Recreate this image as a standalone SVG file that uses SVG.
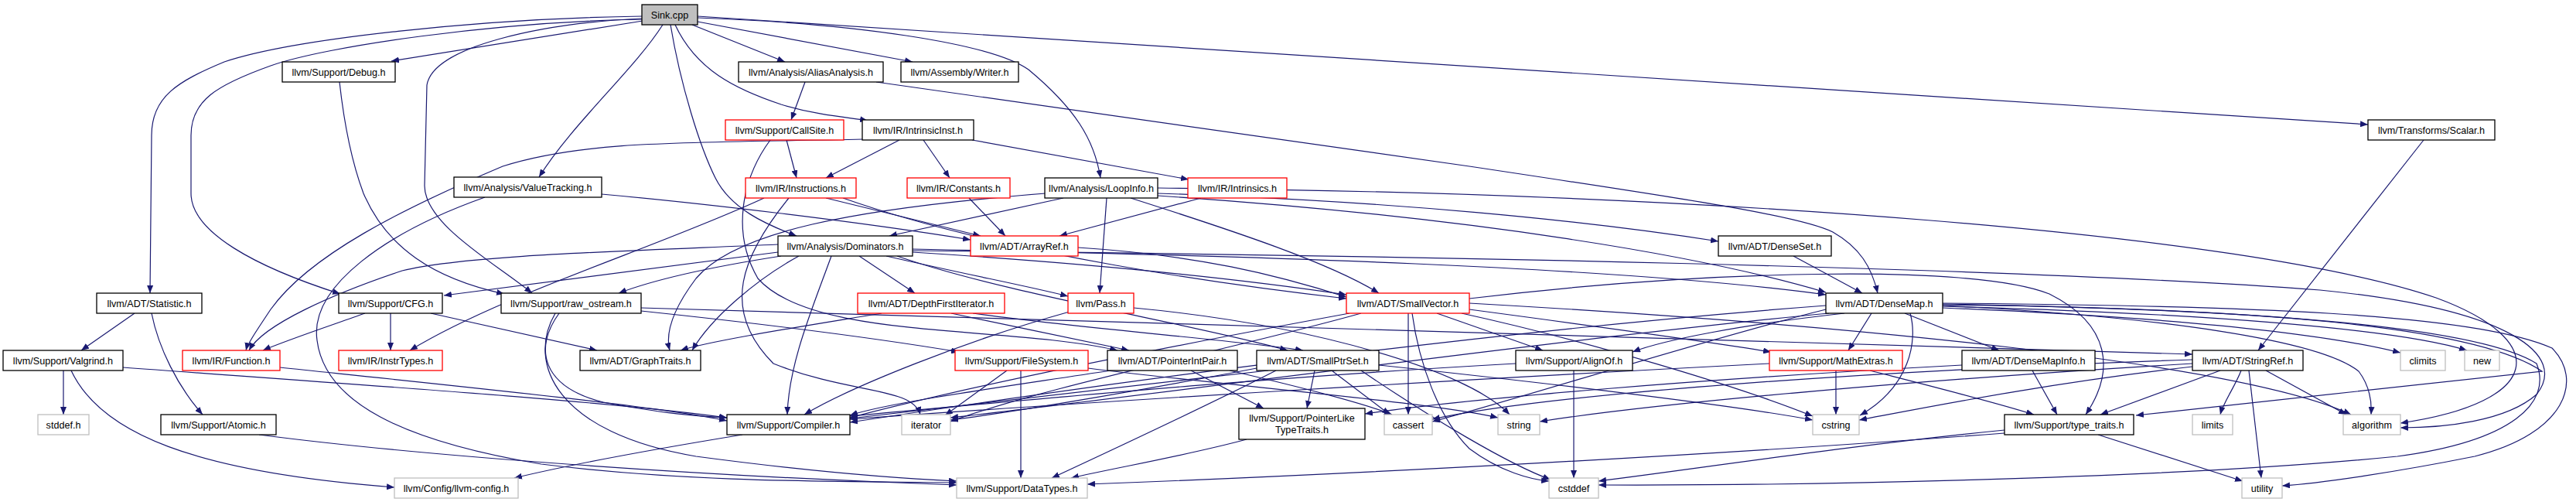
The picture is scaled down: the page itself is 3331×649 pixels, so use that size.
<svg xmlns="http://www.w3.org/2000/svg" width="3331" height="649" viewBox="0 0 3331 649">
<defs>
<marker id="a" markerWidth="11" markerHeight="8" refX="10" refY="4" orient="auto" markerUnits="userSpaceOnUse"><path d="M0,0 L10,4 L0,8 z" fill="#191970"/></marker>
<style>
rect{fill:#fff;stroke:#000;stroke-width:1.3}
rect.r{stroke:#ff0000}
rect.g{stroke:#bfbfbf}
rect.s{fill:#bfbfbf}
text{font-family:"Liberation Sans",Arial,Helvetica,sans-serif;font-size:12.6px;text-anchor:middle;fill:#000}
#edges path{fill:none;stroke:#191970;stroke-width:1.2;marker-end:url(#a)}
</style>
</defs>
<rect x="0" y="0" width="3331" height="649" style="fill:#fff;stroke:none"/>
<g id="edges">
<path d="M830,21 C620,24 380,50 290,80 C230,105 196,125 196,175 L194,379"/>
<path d="M831,25 C640,28 420,60 350,85 C280,110 247,130 247,175 L247,250 C247,300 330,345 440,380"/>
<path d="M831,27 L506,79"/>
<path d="M830,24 C700,30 560,60 552,110 L549,240 C549,290 640,340 688,379"/>
<path d="M439,106 C445,160 455,210 470,250 C500,320 560,360 652,380"/>
<path d="M857,32 C820,90 740,160 697,229"/>
<path d="M867,32 C880,110 905,190 925,230 C945,270 990,290 1030,305"/>
<path d="M895,32 L1015,80"/>
<path d="M902,28 L1180,80"/>
<path d="M873,32 C900,90 950,115 1010,135 C1060,150 1100,152 1122,156"/>
<path d="M902,23 C1100,30 1280,55 1330,90 C1390,140 1415,180 1423,230"/>
<path d="M902,21 L3062,161"/>
<path d="M1041,106 L1023,155"/>
<path d="M1133,106 L1900,215 C2200,260 2330,280 2370,300 C2405,320 2420,345 2428,379"/>
<path d="M1017,181 L1030,230"/>
<path d="M996,181 C960,230 945,300 980,360 C1050,440 1300,420 1445,453"/>
<path d="M1116,180 C900,185 760,180 650,215 C520,270 400,330 350,400 C330,430 320,445 318,453"/>
<path d="M1163,181 L1068,230"/>
<path d="M1194,181 L1228,230"/>
<path d="M1257,181 L1537,232"/>
<path d="M3134,181 L2920,453"/>
<path d="M778,251 C900,262 1100,285 1255,310"/>
<path d="M627,255 C500,300 400,370 410,440 C420,520 520,570 700,600 C900,625 1100,622 1237,624"/>
<path d="M988,256 C850,320 650,380 530,453"/>
<path d="M1020,256 C960,330 930,400 1000,470 C1100,510 1180,500 1190,536"/>
<path d="M1068,256 L1268,305"/>
<path d="M1090,256 C1300,330 1600,370 1741,386"/>
<path d="M1253,256 L1300,305"/>
<path d="M1553,256 L1370,305"/>
<path d="M1006,316 C800,325 600,330 520,350 C430,380 340,420 322,453"/>
<path d="M1006,326 C850,345 700,365 574,382"/>
<path d="M1010,331 C920,345 850,360 800,379"/>
<path d="M1033,331 C980,360 920,410 895,453"/>
<path d="M1075,331 C1050,400 1020,470 1018,536"/>
<path d="M1111,331 L1183,379"/>
<path d="M1146,331 C1250,355 1330,370 1381,383"/>
<path d="M1180,326 C1400,340 1600,360 1741,381"/>
<path d="M1180,322 C1600,330 2100,345 2361,381"/>
<path d="M1160,331 C1300,380 1550,420 1665,453"/>
<path d="M1180,324 C1800,330 2600,345 3000,375 C3250,400 3320,460 3280,510 C3240,545 3160,553 3104,553"/>
<path d="M1375,256 L1150,305"/>
<path d="M1352,250 C1100,270 950,300 900,360 C870,400 860,430 866,453"/>
<path d="M1431,256 L1422,379"/>
<path d="M1462,256 C1600,300 1720,340 1783,379"/>
<path d="M1497,250 C1800,260 2050,285 2222,312"/>
<path d="M1497,253 C1900,280 2200,330 2361,378"/>
<path d="M1497,243 C2200,250 2900,300 3150,385 C3300,440 3290,520 3104,547"/>
<path d="M1394,320 C1550,330 1650,355 1741,384"/>
<path d="M2319,331 L2408,379"/>
<path d="M1140,405 C1050,420 920,440 880,453"/>
<path d="M1258,405 C1400,425 1600,440 1685,453"/>
<path d="M1230,405 C1300,420 1400,440 1460,453"/>
<path d="M1383,403 C1250,440 1100,500 1040,536"/>
<path d="M1466,398 C1700,420 1900,480 1952,536"/>
<path d="M1821,405 L1821,536"/>
<path d="M1826,405 C1835,470 1860,540 1900,580 C1940,610 1980,620 2003,622"/>
<path d="M1858,405 L1995,453"/>
<path d="M1900,400 C2050,420 2200,440 2290,455"/>
<path d="M1890,405 C2050,440 2250,500 2344,538"/>
<path d="M1760,405 C1600,450 1350,500 1229,545"/>
<path d="M1745,405 C1500,450 1250,500 1099,540"/>
<path d="M1900,386 C2200,350 2550,340 2650,380 C2730,420 2735,480 2697,536"/>
<path d="M1900,392 C2400,420 2900,470 3040,536"/>
<path d="M2463,405 L2585,453"/>
<path d="M2420,405 L2390,453"/>
<path d="M2385,405 C2250,420 2150,440 2111,455"/>
<path d="M2470,405 C2480,440 2470,500 2405,537"/>
<path d="M2512,394 C2900,398 3200,420 3287,480 L2762,537"/>
<path d="M2512,395 C2800,410 3000,440 3050,480 C3065,500 3067,520 3066,536"/>
<path d="M2512,398 C2800,410 3000,430 3104,456"/>
<path d="M2512,396 C2850,405 3100,425 3190,453"/>
<path d="M2512,392 C2900,395 3200,405 3300,450 C3340,490 3320,560 3200,590 C3100,610 3000,625 2951,628"/>
<path d="M2512,393 C2900,400 3200,420 3280,470 C3300,520 3250,570 3100,590 C2800,620 2300,628 2067,627"/>
<path d="M2361,400 C2200,440 1950,520 1852,545"/>
<path d="M2365,405 C2000,440 1500,510 1229,540"/>
<path d="M2361,395 C1900,430 1400,500 1099,546"/>
<path d="M82,479 L82,536"/>
<path d="M92,479 C130,560 250,610 510,630"/>
<path d="M159,475 C500,500 800,520 940,540"/>
<path d="M362,475 C600,500 850,525 940,544"/>
<path d="M174,405 L105,453"/>
<path d="M196,405 C205,450 230,500 262,536"/>
<path d="M472,405 C430,420 370,440 340,453"/>
<path d="M505,405 L505,453"/>
<path d="M557,405 L772,453"/>
<path d="M723,405 C690,450 700,500 780,520 C860,535 900,538 940,540"/>
<path d="M718,405 C680,470 720,560 900,590 C1050,610 1150,618 1237,622"/>
<path d="M829,398 C1500,420 2400,440 2835,458"/>
<path d="M829,402 C1000,420 1150,440 1240,455"/>
<path d="M1302,479 L1222,537"/>
<path d="M1320,479 L1320,618"/>
<path d="M1407,476 C1600,500 1850,520 1937,540"/>
<path d="M1436,479 C1300,500 1150,520 1099,537"/>
<path d="M1540,479 L1634,528"/>
<path d="M1590,479 C1680,500 1760,520 1800,536"/>
<path d="M1700,479 L1690,528"/>
<path d="M1722,479 L1797,536"/>
<path d="M1640,479 C1450,500 1250,525 1099,541"/>
<path d="M1650,479 C1550,530 1420,590 1360,618"/>
<path d="M1760,479 C1850,540 1950,600 2005,620"/>
<path d="M1783,472 C2000,495 2250,525 2344,543"/>
<path d="M1625,476 C1500,500 1330,530 1229,543"/>
<path d="M2035,479 L2035,618"/>
<path d="M1960,470 C1600,490 1300,520 1099,538"/>
<path d="M2374,479 L2374,536"/>
<path d="M2288,470 C1900,490 1400,520 1099,542"/>
<path d="M2418,479 C2500,500 2580,520 2630,536"/>
<path d="M2628,479 L2660,536"/>
<path d="M2537,472 C2200,490 1900,515 1765,535"/>
<path d="M2871,479 L2716,536"/>
<path d="M2898,479 C2890,500 2875,520 2871,536"/>
<path d="M2908,479 L2924,618"/>
<path d="M2930,479 L3034,536"/>
<path d="M2835,465 C2400,480 2000,510 1852,542"/>
<path d="M2835,470 C2500,490 2150,520 1991,545"/>
<path d="M2835,474 C2650,495 2500,525 2404,543"/>
<path d="M2713,562 L2900,622"/>
<path d="M2592,556 C2400,575 2200,605 2067,622"/>
<path d="M2592,560 C2200,590 1700,615 1406,626"/>
<path d="M1612,568 C1530,590 1440,605 1385,618"/>
<path d="M960,562 C850,580 740,600 665,618"/>
<path d="M335,562 C550,590 900,615 1237,627"/>
</g>
<g id="sink"><rect class="s" x="830" y="6" width="72" height="26"/><text x="866" y="23.5">Sink.cpp</text></g>
<g id="debug"><rect x="365" y="80" width="146" height="26"/><text x="438" y="97.5">llvm/Support/Debug.h</text></g>
<g id="alias"><rect x="955" y="80" width="187" height="26"/><text x="1048.5" y="97.5">llvm/Analysis/AliasAnalysis.h</text></g>
<g id="writer"><rect x="1165" y="80" width="152" height="26"/><text x="1241" y="97.5">llvm/Assembly/Writer.h</text></g>
<g id="callsite"><rect class="r" x="938" y="155" width="153" height="26"/><text x="1014.5" y="172.5">llvm/Support/CallSite.h</text></g>
<g id="intrinsicinst"><rect x="1115" y="155" width="144" height="26"/><text x="1187" y="172.5">llvm/IR/IntrinsicInst.h</text></g>
<g id="scalar"><rect x="3062" y="155" width="164" height="26"/><text x="3144" y="172.5">llvm/Transforms/Scalar.h</text></g>
<g id="valuetracking"><rect x="587" y="229" width="191" height="26"/><text x="682.5" y="246.5">llvm/Analysis/ValueTracking.h</text></g>
<g id="instructions"><rect class="r" x="964" y="230" width="143" height="26"/><text x="1035.5" y="247.5">llvm/IR/Instructions.h</text></g>
<g id="constants"><rect class="r" x="1173" y="230" width="133" height="26"/><text x="1239.5" y="247.5">llvm/IR/Constants.h</text></g>
<g id="loopinfo"><rect x="1351" y="230" width="146" height="26"/><text x="1424" y="247.5">llvm/Analysis/LoopInfo.h</text></g>
<g id="intrinsics"><rect class="r" x="1536" y="230" width="128" height="26"/><text x="1600" y="247.5">llvm/IR/Intrinsics.h</text></g>
<g id="dominators"><rect x="1006" y="305" width="174" height="26"/><text x="1093" y="322.5">llvm/Analysis/Dominators.h</text></g>
<g id="arrayref"><rect class="r" x="1255" y="305" width="139" height="26"/><text x="1324.5" y="322.5">llvm/ADT/ArrayRef.h</text></g>
<g id="denseset"><rect x="2222" y="305" width="146" height="26"/><text x="2295" y="322.5">llvm/ADT/DenseSet.h</text></g>
<g id="statistic"><rect x="125" y="379" width="136" height="26"/><text x="193" y="396.5">llvm/ADT/Statistic.h</text></g>
<g id="cfg"><rect x="438" y="379" width="134" height="26"/><text x="505" y="396.5">llvm/Support/CFG.h</text></g>
<g id="rawostream"><rect x="648" y="379" width="181" height="26"/><text x="738.5" y="396.5">llvm/Support/raw_ostream.h</text></g>
<g id="depthfirstiterator"><rect class="r" x="1109" y="379" width="190" height="26"/><text x="1204" y="396.5">llvm/ADT/DepthFirstIterator.h</text></g>
<g id="pass"><rect class="r" x="1381" y="379" width="85" height="26"/><text x="1423.5" y="396.5">llvm/Pass.h</text></g>
<g id="smallvector"><rect class="r" x="1741" y="379" width="159" height="26"/><text x="1820.5" y="396.5">llvm/ADT/SmallVector.h</text></g>
<g id="densemap"><rect x="2361" y="379" width="151" height="26"/><text x="2436.5" y="396.5">llvm/ADT/DenseMap.h</text></g>
<g id="valgrind"><rect x="4" y="453" width="155" height="26"/><text x="81.5" y="470.5">llvm/Support/Valgrind.h</text></g>
<g id="function"><rect class="r" x="236" y="453" width="126" height="26"/><text x="299" y="470.5">llvm/IR/Function.h</text></g>
<g id="instrtypes"><rect class="r" x="438" y="453" width="134" height="26"/><text x="505" y="470.5">llvm/IR/InstrTypes.h</text></g>
<g id="graphtraits"><rect x="750" y="453" width="156" height="26"/><text x="828" y="470.5">llvm/ADT/GraphTraits.h</text></g>
<g id="filesystem"><rect class="r" x="1235" y="453" width="172" height="26"/><text x="1321" y="470.5">llvm/Support/FileSystem.h</text></g>
<g id="pointerintpair"><rect x="1432" y="453" width="168" height="26"/><text x="1516" y="470.5">llvm/ADT/PointerIntPair.h</text></g>
<g id="smallptrset"><rect x="1625" y="453" width="158" height="26"/><text x="1704" y="470.5">llvm/ADT/SmallPtrSet.h</text></g>
<g id="alignof"><rect x="1960" y="453" width="151" height="26"/><text x="2035.5" y="470.5">llvm/Support/AlignOf.h</text></g>
<g id="mathextras"><rect class="r" x="2288" y="453" width="172" height="26"/><text x="2374" y="470.5">llvm/Support/MathExtras.h</text></g>
<g id="densemapinfo"><rect x="2537" y="453" width="172" height="26"/><text x="2623" y="470.5">llvm/ADT/DenseMapInfo.h</text></g>
<g id="stringref"><rect x="2835" y="453" width="143" height="26"/><text x="2906.5" y="470.5">llvm/ADT/StringRef.h</text></g>
<g id="climits"><rect class="g" x="3104" y="453" width="58" height="26"/><text x="3133" y="470.5">climits</text></g>
<g id="new"><rect class="g" x="3187" y="453" width="45" height="26"/><text x="3209.5" y="470.5">new</text></g>
<g id="stddef"><rect class="g" x="49" y="536" width="66" height="26"/><text x="82" y="553.5">stddef.h</text></g>
<g id="atomic"><rect x="208" y="536" width="149" height="26"/><text x="282.5" y="553.5">llvm/Support/Atomic.h</text></g>
<g id="compiler"><rect x="940" y="536" width="159" height="26"/><text x="1019.5" y="553.5">llvm/Support/Compiler.h</text></g>
<g id="iterator"><rect class="g" x="1166" y="536" width="63" height="26"/><text x="1197.5" y="553.5">iterator</text></g>
<g id="pointerliketypetraits"><rect x="1602" y="528" width="163" height="40"/><text x="1683.5" y="545">llvm/Support/PointerLike</text><text x="1683.5" y="560">TypeTraits.h</text></g>
<g id="cassert"><rect class="g" x="1790" y="536" width="62" height="26"/><text x="1821" y="553.5">cassert</text></g>
<g id="string"><rect class="g" x="1937" y="536" width="54" height="26"/><text x="1964" y="553.5">string</text></g>
<g id="cstring"><rect class="g" x="2344" y="536" width="60" height="26"/><text x="2374" y="553.5">cstring</text></g>
<g id="typetraits"><rect x="2592" y="536" width="167" height="26"/><text x="2675.5" y="553.5">llvm/Support/type_traits.h</text></g>
<g id="limits"><rect class="g" x="2835" y="536" width="52" height="26"/><text x="2861" y="553.5">limits</text></g>
<g id="algorithm"><rect class="g" x="3030" y="536" width="74" height="26"/><text x="3067" y="553.5">algorithm</text></g>
<g id="llvmconfig"><rect class="g" x="510" y="618" width="160" height="26"/><text x="590" y="635.5">llvm/Config/llvm-config.h</text></g>
<g id="datatypes"><rect class="g" x="1237" y="618" width="169" height="26"/><text x="1321.5" y="635.5">llvm/Support/DataTypes.h</text></g>
<g id="cstddef"><rect class="g" x="2003" y="618" width="64" height="26"/><text x="2035" y="635.5">cstddef</text></g>
<g id="utility"><rect class="g" x="2899" y="618" width="52" height="26"/><text x="2925" y="635.5">utility</text></g>
</svg>
